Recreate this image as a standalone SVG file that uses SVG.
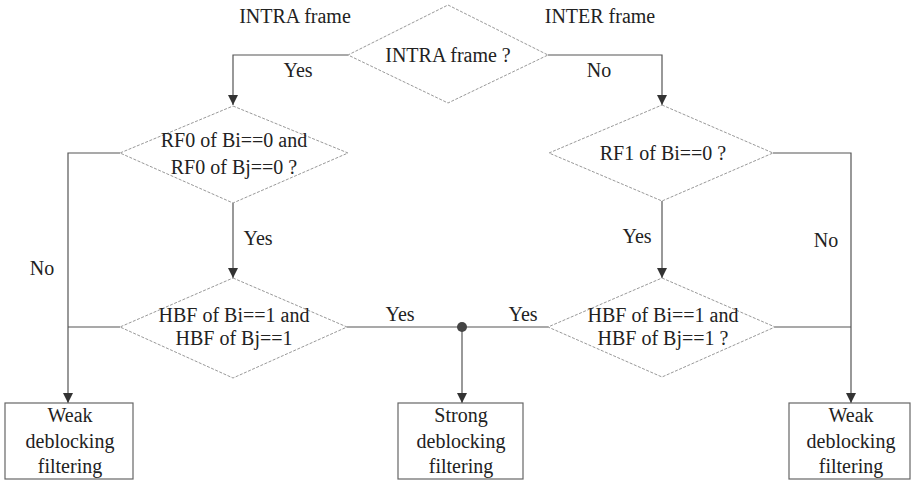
<svg xmlns="http://www.w3.org/2000/svg" width="912" height="482" viewBox="0 0 912 482" font-family="'Liberation Serif', 'DejaVu Serif', serif">
<defs>
<style>
text{font-family:"Liberation Serif","DejaVu Serif",serif;font-size:20px;fill:#222;text-anchor:middle}
.d{fill:none;stroke:#999;stroke-width:1;stroke-dasharray:3 1.5}
.b{fill:#fff;stroke:#666;stroke-width:1.2}
.c{fill:none;stroke:#555;stroke-width:1.2}
.a{fill:none;stroke:#555;stroke-width:1.2;marker-end:url(#arr)}
</style>
<marker id="arr" viewBox="0 0 10 10" refX="10" refY="5" markerWidth="10" markerHeight="10" markerUnits="userSpaceOnUse" orient="auto">
<path d="M0,0 L10,5 L0,10 z" fill="#333"/>
</marker>
</defs>
<rect width="912" height="482" fill="#fff"/>
<g id="labels">
<text x="295" y="23">INTRA frame</text>
<text x="600" y="23">INTER frame</text>
</g>
<g id="connectors">
<polyline class="a" points="348,55 233,55 233,105"/>
<polyline class="a" points="548,55 662,55 662,105"/>
<line class="a" x1="233" y1="203" x2="233" y2="278"/>
<line class="a" x1="662" y1="201" x2="662" y2="278"/>
<polyline class="a" points="120,153 68,153 68,403"/>
<line class="c" x1="120" y1="327" x2="68" y2="327"/>
<polyline class="a" points="773,153 851,153 851,403"/>
<line class="c" x1="775" y1="327" x2="851" y2="327"/>
<line class="c" x1="347" y1="327" x2="548" y2="327"/>
<line class="a" x1="462" y1="327" x2="462" y2="403"/>
<circle cx="462" cy="327" r="5" fill="#444"/>
<text x="298" y="77">Yes</text>
<text x="599" y="77">No</text>
<text x="258" y="245">Yes</text>
<text x="637" y="243">Yes</text>
<text x="42" y="275">No</text>
<text x="826" y="247">No</text>
<text x="400" y="321">Yes</text>
<text x="523" y="321">Yes</text>
</g>
<g id="intra">
<polygon class="d" points="448,5 548,55 448,103 348,55"/>
<text x="448" y="62">INTRA frame ?</text>
</g>
<g id="rf0">
<polygon class="d" points="233,106 348,153 233,203 120,153"/>
<text x="234" y="147">RF0 of Bi==0 and</text>
<text x="234" y="174">RF0 of Bj==0 ?</text>
</g>
<g id="rf1">
<polygon class="d" points="662,105 773,153 662,201 549,153"/>
<text x="663" y="160">RF1 of Bi==0 ?</text>
</g>
<g id="hbf-left">
<polygon class="d" points="233,278 347,327 233,378 120,327"/>
<text x="234" y="322">HBF of Bi==1 and</text>
<text x="234" y="345">HBF of Bj==1</text>
</g>
<g id="hbf-right">
<polygon class="d" points="662,278 775,327 662,377 548,327"/>
<text x="663" y="322">HBF of Bi==1 and</text>
<text x="663" y="345">HBF of Bj==1 ?</text>
</g>
<g id="weak-left">
<rect class="b" x="5" y="403" width="128" height="76"/>
<text x="70" y="422">Weak</text>
<text x="70" y="448">deblocking</text>
<text x="70" y="473">filtering</text>
</g>
<g id="strong">
<rect class="b" x="398" y="403" width="125" height="76"/>
<text x="461" y="422">Strong</text>
<text x="461" y="448">deblocking</text>
<text x="461" y="473">filtering</text>
</g>
<g id="weak-right">
<rect class="b" x="789" y="403" width="121" height="76"/>
<text x="851" y="422">Weak</text>
<text x="851" y="448">deblocking</text>
<text x="851" y="473">filtering</text>
</g>
</svg>
